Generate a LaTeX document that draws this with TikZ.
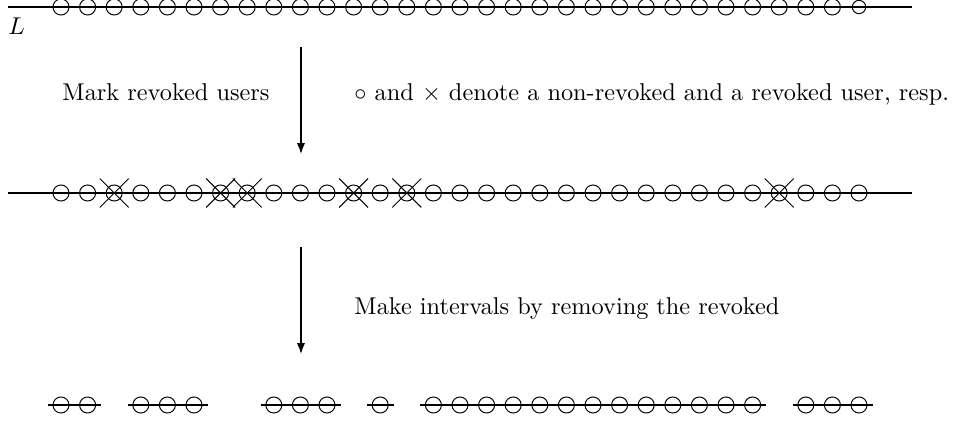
\documentclass[tikz,border=0pt]{standalone}
\usetikzlibrary{arrows.meta,shapes.misc}
\begin{document}
\begin{tikzpicture}[x=0.4115pt,y=-0.4115pt,
  axis/.style={line width=0.6pt},
  user/.style={circle,draw,line width=0.4pt,minimum size=6.6pt,inner sep=0pt,outer sep=0pt},
  lastuser/.style={user,minimum size=5.5pt},
  crossmark/.style={cross out,draw,line width=0.4pt,minimum size=11.5pt,inner sep=0pt},
  flow/.style={line width=0.6pt,-{Latex[length=4.5pt,width=3.4pt]}},
  label/.style={anchor=base west,inner sep=0pt,font=\normalsize}]
\useasboundingbox (0,0) rectangle (959,425);

% all users on the line L
\coordinate (aL) at (8,7);
\coordinate (aR) at (912,7);
\draw[axis] (aL) -- (aR);
\foreach \i in {1,...,30} \node[user] (a\i) at ({61+(\i-1)*26.6},7) {};
\node[lastuser] (a31) at ({61+30*26.6},7) {};
\node[label] (lname) at (8,35) {$L$};

% first step
\coordinate (s1) at (301,47);
\coordinate (e1) at (301,154);
\draw[flow] (s1) -- (e1);
\node[label] (t1) at (62,101) {Mark revoked users};
\node[label] (t2) at (354,101) {$\circ$ and $\times$ denote a non-revoked and a revoked user, resp.};

% users with the revoked ones marked
\coordinate (bL) at (8,193);
\coordinate (bR) at (912,193);
\draw[axis] (bL) -- (bR);
\foreach \i in {1,...,31} \node[user] (b\i) at ({61+(\i-1)*26.6},193) {};
\foreach \i in {3,7,8,12,14,28} \node[crossmark] (x\i) at (b\i) {};

% second step
\coordinate (s2) at (301,247);
\coordinate (e2) at (301,354);
\draw[flow] (s2) -- (e2);
\node[label] (t3) at (354,315) {Make intervals by removing the revoked};

% intervals of non-revoked users
\foreach \i in {1,2,4,5,6,9,10,11,13,15,16,17,18,19,20,21,22,23,24,25,26,27,29,30,31}
  \node[user] (c\i) at ({61+(\i-1)*26.6},405) {};
\foreach \p/\q in {1/2,4/6,9/11,13/13,15/27,29/31}
  \draw[axis] ([xshift=-5.45pt]c\p.center) -- ([xshift=5.6pt]c\q.center);
\end{tikzpicture}
\end{document}
